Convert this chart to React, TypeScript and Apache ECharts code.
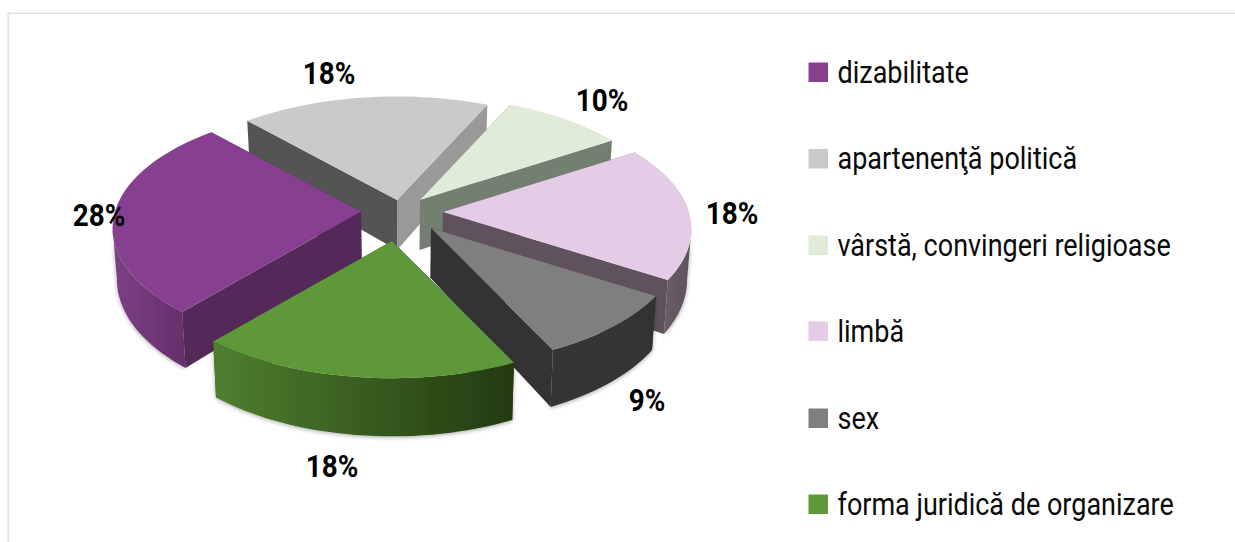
import React, { useEffect, useRef } from "react";
import * as echarts from "echarts";

// Data
const categories = [
  "dizabilitate",
  "apartenenţă politică",
  "vârstă, convingeri religioase",
  "limbă",
  "sex",
  "forma juridică de organizare",
];
const values = [28, 18, 10, 18, 9, 18];

// Styles per slice
const topColors = ["#86408f", "#cbc9ca", "#e0ecd8", "#e4cbe6", "#7f7f7f", "#5f983b"];
const startWallColors = ["#55285a", "#545454", "#6f7a6c", "#5f525c", "#333333", "#2f4a1c"];
const endWallColors = ["#55285a", "#9a9899", "#737f71", "#5f525c", "#333333", "#2f4a1c"];
const rimLeftColors = ["#7c4085", "#8a8a8a", "#7a8576", "#6a5d68", "#363636", "#4f7f2f"];
const rimRightColors = ["#652f6a", "#8a8a8a", "#7a8576", "#5f525c", "#333333", "#233a10"];

// Layout of the exploded 3D pie
const CX = 402;
const CY = 216;
const A = 246; // horizontal radius
const B = 118; // vertical radius
const P = 0.14; // perspective strength
const H = 50; // extrusion depth
const BOTTOM_SCALE = 0.985;
const START_ANGLE = 219;
const slicePull = [
  [-41, -4.5],
  [-5, -16],
  [18, -16],
  [41, -4],
  [29, 12],
  [-10, 25],
];
// apparent trim of each slice's edges, in degrees, caused by the perspective of the explosion
const edgeTrim = [
  [1.5, -1],
  [-1, 1.5],
  [1.5, -1.5],
  [-1.5, -0.5],
  [-0.5, -0.5],
  [-0.5, 1.5],
];
const labelPos = [
  [99, 215],
  [329, 73],
  [602, 99.5],
  [732, 212.5],
  [647, 400],
  [332, 465.5],
];
const drawOrder = [1, 2, 3, 4, 0, 5];

const LEG_ROWS = [72, 158.5, 245, 331, 418, 504];

const total = values.reduce((a, b) => a + b, 0);
const angles: [number, number][] = [];
{
  let acc = START_ANGLE;
  values.forEach((v, i) => {
    const span = (v / total) * 360;
    const shift = acc + edgeTrim[i][0] >= 360 ? 360 : 0;
    angles.push([acc + edgeTrim[i][0] - shift, acc + span + edgeTrim[i][1] - shift]);
    acc += span;
  });
}

function rimPoint(i: number, deg: number, bottom: boolean): number[] {
  const t = (deg * Math.PI) / 180;
  const X = Math.sin(t);
  const Y = -Math.cos(t);
  const s = 1 / (1 - P * Y);
  return place(i, A * X * s, B * Y * s, s, bottom);
}
function place(i: number, dx: number, dy: number, s: number, bottom: boolean): number[] {
  const ax = CX + slicePull[i][0] + dx;
  const ay = CY + slicePull[i][1] + dy;
  if (!bottom) return [ax, ay];
  return [CX + (ax - CX) * BOTTOM_SCALE, ay + H * s];
}

// angles where the outer wall can be seen (front half of the rim)
const RIM_FROM = 98;
const RIM_TO = 262;

function renderSlice(_params: any, api: any) {
  const i = api.value(0) as number;
  const [a0, a1] = angles[i];
  const steps = Math.max(4, Math.ceil((a1 - a0) / 2));
  const arcTop: number[][] = [];
  for (let k = 0; k <= steps; k++) {
    arcTop.push(rimPoint(i, a0 + ((a1 - a0) * k) / steps, false));
  }
  const apexTop = place(i, 0, 0, 1, false);
  const apexBottom = place(i, 0, 0, 1, true);
  const startBottom = rimPoint(i, a0, true);
  const endBottom = rimPoint(i, a1, true);
  const startWall = {
    type: "polygon",
    shape: { points: [apexTop, arcTop[0], startBottom, apexBottom] },
    style: { fill: startWallColors[i] },
  };
  const endWall = {
    type: "polygon",
    shape: { points: [apexTop, arcTop[steps], endBottom, apexBottom] },
    style: { fill: endWallColors[i] },
  };
  const children: any[] = [];
  const startVisible = Math.sin((a0 * Math.PI) / 180) < 0;
  const endVisible = Math.sin((a1 * Math.PI) / 180) > 0;
  if (!startVisible) children.push(startWall);
  if (!endVisible) children.push(endWall);

  const r0 = Math.max(a0, RIM_FROM);
  const r1 = Math.min(a1, RIM_TO);
  if (r1 > r0) {
    const top: number[][] = [];
    const bot: number[][] = [];
    const n = Math.max(4, Math.ceil((r1 - r0) / 2));
    for (let k = 0; k <= n; k++) {
      const d = r0 + ((r1 - r0) * k) / n;
      top.push(rimPoint(i, d, false));
      bot.push(rimPoint(i, d, true));
    }
    children.push({
      type: "polygon",
      shape: { points: [...top, ...bot.reverse()] },
      style: {
        fill: {
          type: "linear",
          x: 0,
          y: 0,
          x2: 1,
          y2: 0,
          colorStops: [
            { offset: 0, color: rimLeftColors[i] },
            { offset: 1, color: rimRightColors[i] },
          ],
        },
        shadowBlur: 4,
        shadowColor: "rgba(0,0,0,0.35)",
        shadowOffsetY: 1,
      },
    });
  }
  if (startVisible) children.push(startWall);
  if (endVisible) children.push(endWall);
  children.push({
    type: "polygon",
    shape: { points: [apexTop, ...arcTop] },
    style: { fill: topColors[i] },
  });
  children.push({
    type: "text",
    x: labelPos[i][0],
    y: labelPos[i][1],
    scaleX: 0.87,
    style: {
      text: `${values[i]}%`,
      fontFamily: "Roboto",
      fontSize: 32,
      fontWeight: 700,
      fill: "#000000",
      align: "center",
      verticalAlign: "middle",
    },
  });
  return { type: "group", children };
}

const legendElements: any[] = [];
categories.forEach((name, i) => {
  legendElements.push({
    type: "rect",
    shape: { x: 808.5, y: LEG_ROWS[i] - 9.5, width: 19.5, height: 19.5 },
    style: { fill: topColors[i] },
  });
  legendElements.push({
    type: "text",
    x: 837.5,
    y: LEG_ROWS[i],
    scaleX: 0.871,
    style: {
      text: name,
      fontFamily: "Roboto",
      fontSize: 31,
      fill: "#0a0a0a",
      align: "left",
      verticalAlign: "middle",
    },
  });
});

export default function App() {
  const ref = useRef<HTMLDivElement>(null);
  useEffect(() => {
    const chart = echarts.init(ref.current!, null, { renderer: "svg" });
    chart.setOption({
      animation: false,
      backgroundColor: "#ffffff",
      graphic: {
        elements: [
          { type: "rect", shape: { x: 7.5, y: 12.5, width: 1228, height: 1.5 }, style: { fill: "#dfe4e8" } },
          { type: "rect", shape: { x: 7.5, y: 12.5, width: 1.5, height: 530 }, style: { fill: "#dfe4e8" } },
          ...legendElements,
        ],
      },
      series: [
        {
          type: "custom",
          coordinateSystem: "none",
          renderItem: renderSlice,
          data: drawOrder.map((i) => [i, values[i]]),
          silent: true,
        },
      ],
    });
    return () => chart.dispose();
  }, []);
  return (
    <div
      ref={ref}
      style={{ position: "absolute", left: 0, top: 0, width: 1235, height: 542 }}
    />
  );
}
